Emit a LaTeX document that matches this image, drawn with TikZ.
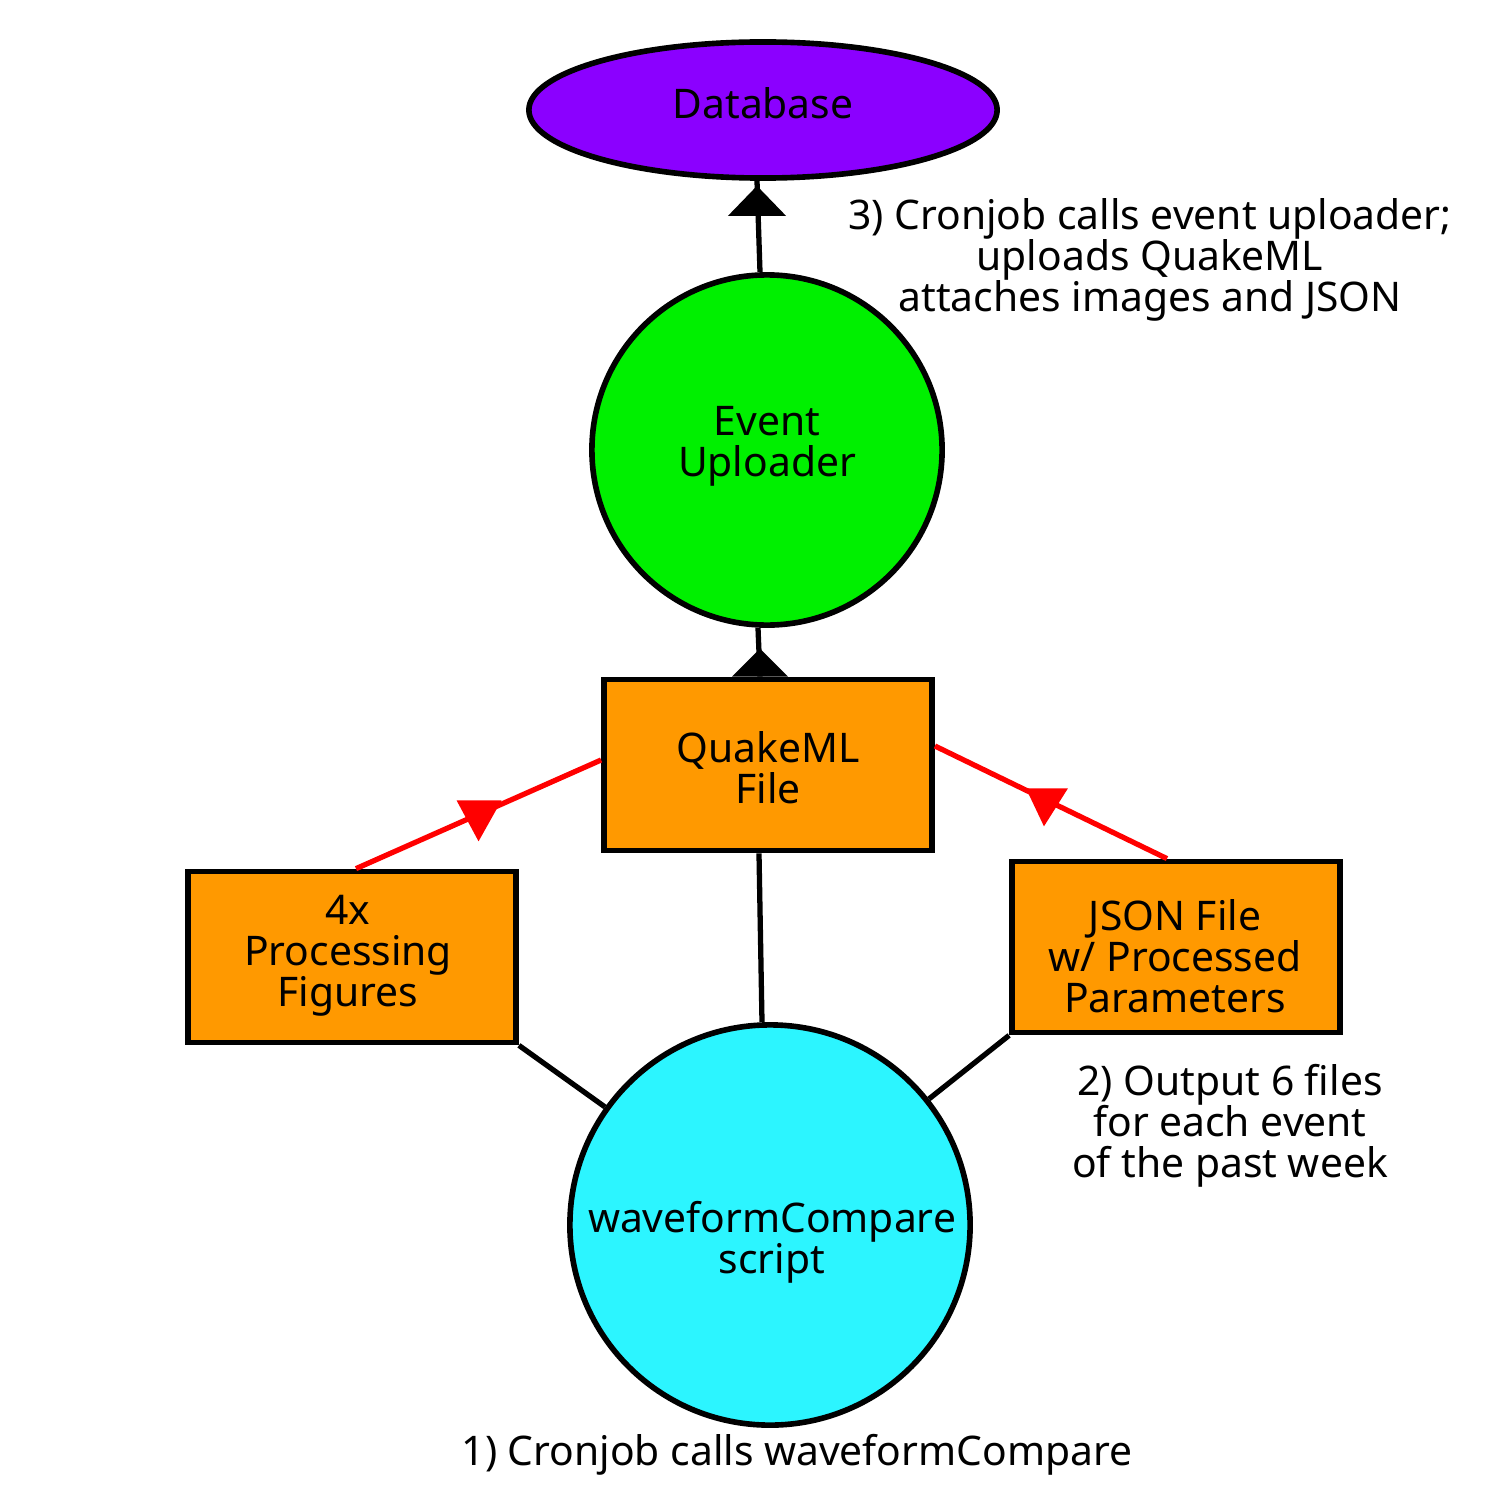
\documentclass[tikz,border=0pt]{standalone}
\usepackage{fontspec}
\setmainfont{Noto Sans}
\usetikzlibrary{shapes.geometric,calc}
\definecolor{dbpurple}{HTML}{8B00FF}
\definecolor{eugreen}{HTML}{00F000}
\definecolor{boxorange}{HTML}{FF9900}
\definecolor{wccyan}{HTML}{2CF5FF}
\newcommand{\mytightlines}{\fontsize{11.6}{11.7}\selectfont\lineskiplimit=-20pt\relax}
\tikzset{
  every node/.style={font=\mytightlines, align=center},
  blk/.style={draw=black, line width=1.6pt},
  filebox/.style={blk, fill=boxorange, rectangle, minimum width=3.28cm, minimum height=1.71cm, inner sep=0pt},
  proc/.style={blk, circle, inner sep=0pt},
  link/.style={line width=1.5pt, draw=black},
  redlink/.style={line width=1.5pt, draw=red},
  note/.style={align=center},
}
\begin{document}
\begin{tikzpicture}[x=0.01cm,y=-0.01cm]
\useasboundingbox (0,0) rectangle (1500,1500);
% nodes
\node[blk, ellipse, fill=dbpurple, minimum width=4.68cm, minimum height=1.36cm, inner sep=0pt] (db) at (763,110) {};
\node (dbt) at (763,103) {Database};
\node[proc, fill=eugreen, minimum size=3.5cm] (eu) at (767,450) {};
\node (eut) at (767,446) {Event\\Uploader};
\node[filebox] (qm) at (768,765) {};
\node (qmt) at (768,768) {QuakeML\\File};
\node[filebox] (pf) at (352,957) {};
\node (pft) at (348,956) {4x\\Processing\\Figures};
\node[filebox] (js) at (1176,947) {};
\node (jst) at (1175,956) {JSON File\\w/ Processed\\Parameters};
\node[proc, fill=wccyan, minimum size=4cm] (wc) at (770,1225) {};
\node (wct) at (772,1242) {waveformCompare\\script};
% notes
\node[note] (n3) at (1150,260) {3) Cronjob calls event uploader;\\uploads QuakeML\\attaches images and JSON};
\node[note] (n2) at (1230,1126) {2) Output 6 files\\for each event\\of the past week};
\node[note] (n1) at (797,1455) {1) Cronjob calls waveformCompare};
% connectors
\draw[link] ([xshift=-0.07cm]eu.north) -- ([xshift=-0.06cm]db.south);
\fill[black] ([xshift=-0.06cm,yshift=-0.05cm]db.south) -- ([xshift=-0.35cm,yshift=-0.35cm]db.south) -- ([xshift=0.23cm,yshift=-0.35cm]db.south) -- cycle;
\draw[link] ([xshift=-0.08cm]qm.north) -- ([xshift=-0.09cm]eu.south);
\fill[black] ([xshift=-0.36cm]qm.north) -- ([xshift=0.20cm]qm.north) -- ([xshift=-0.08cm,yshift=0.28cm]qm.north) -- cycle;
\draw[link] ([xshift=-0.09cm]qm.south) -- ([xshift=-0.08cm]wc.north);
\draw[link] (pf.south east) -- (wc);
\draw[link] (js.south west) -- (wc);
\draw[redlink] ([xshift=0.04cm]pf.north) -- ([yshift=0.05cm]qm.west) coordinate[pos=0.5] (m1);
\draw[redlink] ([xshift=-0.09cm]js.north) -- ([yshift=0.19cm]qm.east) coordinate[pos=0.5] (m2);
\fill[red] ([xshift=-0.22cm,yshift=0.14cm]m1) -- ([xshift=0.23cm,yshift=0.14cm]m1) -- ([yshift=-0.27cm]m1) -- cycle;
\fill[red] ([xshift=-0.25cm,yshift=0.14cm]m2) -- ([xshift=0.17cm,yshift=0.14cm]m2) -- ([xshift=-0.07cm,yshift=-0.24cm]m2) -- cycle;
\end{tikzpicture}
\end{document}
